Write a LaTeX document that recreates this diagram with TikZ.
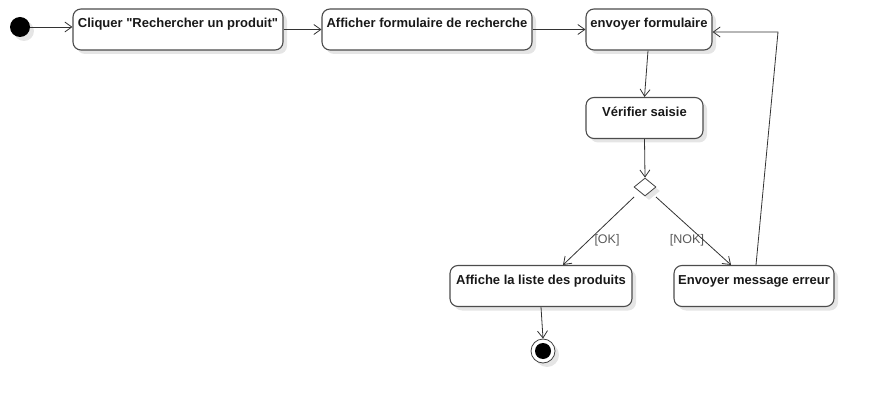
\documentclass[tikz,border=0pt]{standalone}
\usepackage{fontspec}
\setmainfont{Liberation Sans}[Ligatures=TeXOff]
\usetikzlibrary{arrows.meta,shapes.geometric,shadows,calc}
\tikzset{
  shade/.style={drop shadow={shadow xshift=4pt,shadow yshift=-4pt,fill=black!10,opacity=1}},
  act/.style={draw=black!70,line width=1.1pt,rounded corners=8pt,fill=white,shade,
    inner xsep=0pt,inner ysep=0pt,text height=19pt,text depth=22pt,
    font=\bfseries\fontsize{13}{15}\selectfont,text=black!90},
  conn/.style={draw=black!80,line width=0.8pt,-{Straight Barb[length=7pt,width=10pt,line width=0.8pt]}},
  guard/.style={font=\fontsize{12.5}{14}\selectfont,text=black!65,inner sep=0pt},
}
\begin{document}
\begin{tikzpicture}[x=1pt,y=-1pt]
\useasboundingbox (0,0) rectangle (874,403);
\node[circle,fill=black,minimum size=20pt,inner sep=0pt,shade] (init) at (20,27) {};
\node[act,minimum width=210pt] (b1) at (178,29.5) {Cliquer "Rechercher un produit"};
\node[act,minimum width=210pt] (b2) at (427,29.5) {Afficher formulaire de recherche};
\node[act,minimum width=126pt] (b3) at (649,29.5) {envoyer formulaire};
\node[act,minimum width=117pt] (b4) at (644.5,118) {Vérifier saisie};
\node[diamond,draw=black!75,line width=0.8pt,fill=white,shade,minimum width=22pt,minimum height=18pt,inner sep=0pt,aspect=1.2] (dia) at (645,187) {};
\node[act,minimum width=182pt] (b5) at (541,286) {Affiche la liste des produits};
\node[act,minimum width=160pt] (b6) at (754,286) {Envoyer message erreur};
\node[circle,draw=black!75,line width=0.8pt,fill=white,minimum size=24pt,inner sep=0pt,shade] (fin) at (543,351) {};
\node[circle,fill=black,minimum size=16pt,inner sep=0pt] (finin) at (fin) {};
\node[guard] (ok) at (607,240) {[OK]};
\node[guard] (nok) at (687,240) {[NOK]};
\coordinate (ret) at (778,32);

\draw[conn] (init.east) -- (b1.west |- init.east);
\draw[conn] (b1) -- (b2);
\draw[conn] (b2) -- (b3);
\draw[conn] ([xshift=-1pt]b3.south) -- (b4.north);
\draw[conn] (b4.south) -- (dia.north);
\draw[conn] ($(dia)+(-11,10)$) -- ($(b5.north)+(22,0)$);
\draw[conn] ($(dia)+(11,10)$) -- ($(b6.north)+(-23,0)$);
\draw[conn] ($(b6.north)+(2,0)$) -- (ret) -- (b3.east |- ret);
\draw[conn] (b5.south) -- (fin.north);
\end{tikzpicture}
\end{document}
